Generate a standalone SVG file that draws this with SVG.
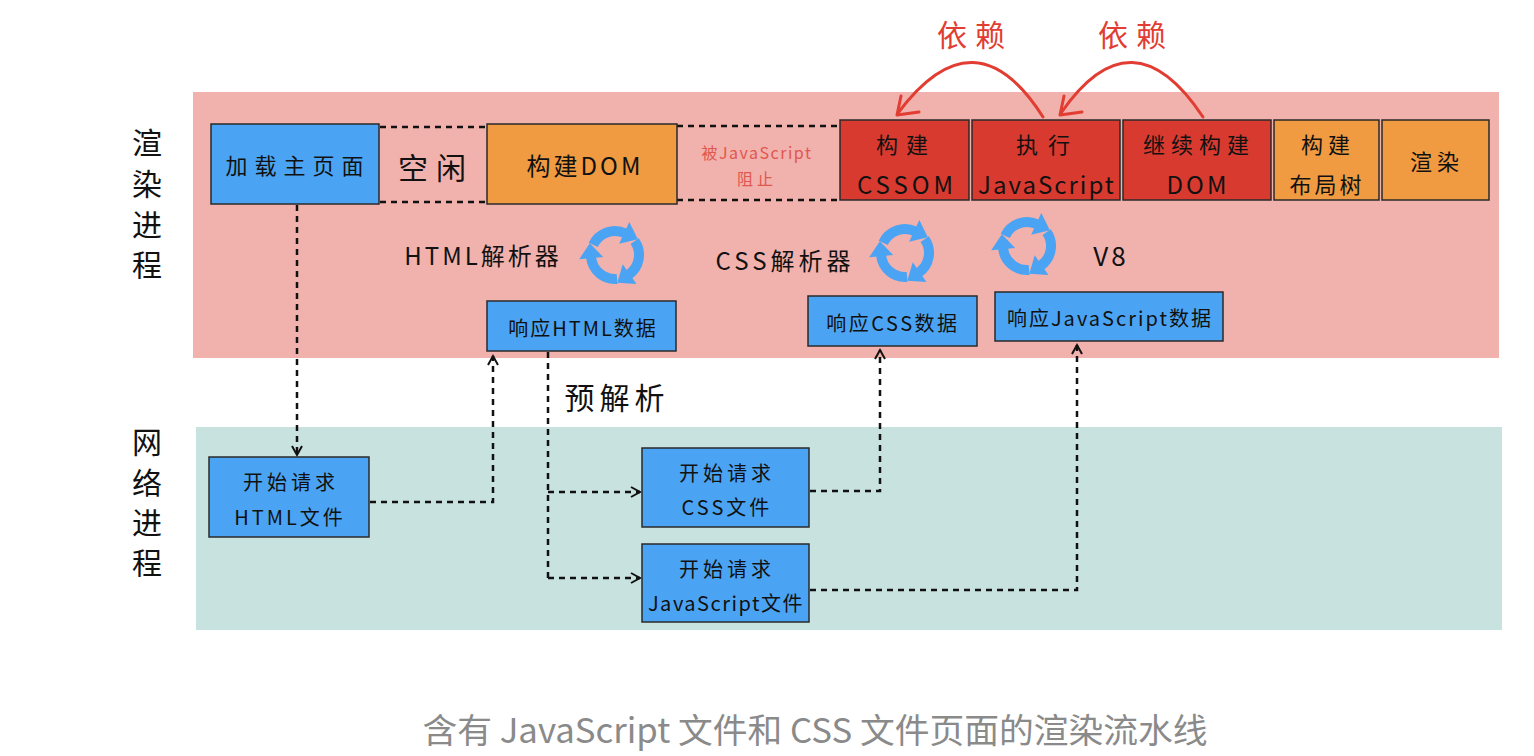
<svg xmlns="http://www.w3.org/2000/svg" xmlns:xlink="http://www.w3.org/1999/xlink" width="1534" height="756" viewBox="0 0 1534 756">
<style>
text{font-family:"Noto Sans CJK SC","Liberation Sans",sans-serif;fill:#111;text-anchor:middle;dominant-baseline:central}
.box{stroke:#2a2a2a;stroke-width:1.5}
.blue{fill:#4ba4f3}
.orange{fill:#f09a41}
.red{fill:#d93a2f}
.t22{font-size:22px}
.t24{font-size:24px}
.t20{font-size:20px}
.side{font-size:30px}
.dot{fill:none;stroke:#111;stroke-width:2.5;stroke-dasharray:6 5}
.dep{fill:none;stroke:#e23d32;stroke-width:3;stroke-linecap:round;stroke-linejoin:round}
.cyc{fill:none;stroke:#4ba4f3;stroke-width:10}
.cyh{fill:#4ba4f3}
</style>
<defs>
<marker id="ah" markerUnits="userSpaceOnUse" markerWidth="14" markerHeight="14" refX="10" refY="6" orient="auto">
<path d="M1,1 L10,6 L1,11" fill="none" stroke="#111" stroke-width="2"/>
</marker>
<g id="seg">
<path class="cyc" d="M24 0 A24 24 0 0 1 0 24"/>
<polygon class="cyh" points="1,12 1,36 -14,24"/>
</g>
<g id="cycle">
<use xlink:href="#seg" transform="rotate(205)"/>
<use xlink:href="#seg" transform="rotate(325)"/>
<use xlink:href="#seg" transform="rotate(85)"/>
</g>
</defs>
<rect width="1534" height="756" fill="#fff"/>
<rect x="193" y="92" width="1306" height="266" fill="#f1b1ad"/>
<rect x="196" y="427" width="1306" height="203" fill="#c8e2e0"/>

<g id="side-labels">
<text class="side" x="147" y="141">渲</text>
<text class="side" x="147" y="182">染</text>
<text class="side" x="147" y="223">进</text>
<text class="side" x="147" y="263">程</text>
<text class="side" x="147" y="440">网</text>
<text class="side" x="147" y="481">络</text>
<text class="side" x="147" y="521">进</text>
<text class="side" x="147" y="561">程</text>
</g>

<g id="connectors">
<path class="dot" d="M380 127 H487 M380 202 H487 M677 126 H840 M677 200 H840"/>
<path class="dot" d="M297 205 V455" marker-end="url(#ah)"/>
<path class="dot" d="M370 502 H493 V356" marker-end="url(#ah)"/>
<path class="dot" d="M548 352 V578"/>
<path class="dot" d="M548 492 H640" marker-end="url(#ah)"/>
<path class="dot" d="M548 578 H640" marker-end="url(#ah)"/>
<path class="dot" d="M810 491 H880 V350" marker-end="url(#ah)"/>
<path class="dot" d="M810 590 H1077 V345" marker-end="url(#ah)"/>
<path class="dep" d="M1043 117 Q975 10 898 113"/>
<polyline class="dep" points="901,96 897,115 919,112"/>
<path class="dep" d="M1203 117 Q1132 10 1061 113"/>
<polyline class="dep" points="1064,96 1060,115 1082,112"/>
</g>

<g id="dep-labels">
<text x="975" y="33" font-size="30" letter-spacing="8" style="fill:#e23d32">依赖</text>
<text x="1136" y="33" font-size="30" letter-spacing="8" style="fill:#e23d32">依赖</text>
</g>

<g id="load-main">
<rect class="box blue" x="211" y="124" width="168" height="80"/>
<text class="t22" x="298" y="164" letter-spacing="7">加载主页面</text>
</g>
<g id="idle">
<text x="436" y="166" font-size="30" letter-spacing="8">空闲</text>
</g>
<g id="build-dom">
<rect class="box orange" x="487" y="124" width="190" height="80"/>
<text class="t24" x="585" y="164" letter-spacing="3">构建DOM</text>
</g>
<g id="blocked">
<text x="757" y="152" font-size="16" letter-spacing="1.5" style="fill:#e0574e">被JavaScript</text>
<text x="757" y="178" font-size="16" letter-spacing="4" style="fill:#e0574e">阻止</text>
</g>
<g id="build-cssom">
<rect class="box red" x="840" y="120" width="129" height="80"/>
<text class="t22" x="906" y="143" letter-spacing="8">构建</text>
<text class="t24" x="907" y="183" letter-spacing="4">CSSOM</text>
</g>
<g id="exec-js">
<rect class="box red" x="972" y="120" width="148" height="80"/>
<text class="t22" x="1048" y="143" letter-spacing="10">执行</text>
<text class="t24" x="1047" y="183" letter-spacing="2">JavaScript</text>
</g>
<g id="continue-dom">
<rect class="box red" x="1123" y="120" width="148" height="80"/>
<text class="t22" x="1199" y="143" letter-spacing="6">继续构建</text>
<text class="t24" x="1198" y="183" letter-spacing="3">DOM</text>
</g>
<g id="build-layout">
<rect class="box orange" x="1274" y="120" width="105" height="80"/>
<text class="t22" x="1328" y="143" letter-spacing="5">构建</text>
<text class="t22" x="1327" y="183" letter-spacing="3">布局树</text>
</g>
<g id="render">
<rect class="box orange" x="1382" y="120" width="107" height="80"/>
<text class="t22" x="1437" y="160" letter-spacing="5">渲染</text>
</g>

<g id="html-parser">
<text class="t24" x="483" y="254" letter-spacing="3">HTML解析器</text>
<use xlink:href="#cycle" transform="translate(615 255)"/>
</g>
<g id="css-parser">
<text class="t24" x="785" y="259" letter-spacing="4">CSS解析器</text>
<use xlink:href="#cycle" transform="translate(905 253)"/>
</g>
<g id="v8">
<text x="1111" y="254" font-size="26" letter-spacing="3">V8</text>
<use xlink:href="#cycle" transform="translate(1027 246)"/>
</g>

<g id="resp-html">
<rect class="box blue" x="487" y="301" width="189" height="50"/>
<text class="t20" x="583" y="327" letter-spacing="2">响应HTML数据</text>
</g>
<g id="resp-css">
<rect class="box blue" x="808" y="296" width="169" height="50"/>
<text class="t20" x="893" y="322" letter-spacing="2.5">响应CSS数据</text>
</g>
<g id="resp-js">
<rect class="box blue" x="995" y="292" width="228" height="49"/>
<text class="t20" x="1110" y="317" letter-spacing="2">响应JavaScript数据</text>
</g>

<g id="preparse">
<text x="617" y="396" font-size="30" letter-spacing="5">预解析</text>
</g>

<g id="req-html">
<rect class="box blue" x="209" y="457" width="160" height="80"/>
<text class="t20" x="291" y="481" letter-spacing="4">开始请求</text>
<text class="t20" x="290" y="516" letter-spacing="3">HTML文件</text>
</g>
<g id="req-css">
<rect class="box blue" x="642" y="448" width="167" height="79"/>
<text class="t20" x="727" y="472" letter-spacing="4">开始请求</text>
<text class="t20" x="727" y="506" letter-spacing="3">CSS文件</text>
</g>
<g id="req-js">
<rect class="box blue" x="642" y="544" width="167" height="78"/>
<text class="t20" x="727" y="568" letter-spacing="4">开始请求</text>
<text class="t20" x="726" y="602" letter-spacing="1.5">JavaScript文件</text>
</g>

<g id="caption">
<text x="815" y="728" font-size="34" textLength="785" lengthAdjust="spacingAndGlyphs" style="fill:#8a8a8a">含有 JavaScript 文件和 CSS 文件页面的渲染流水线</text>
</g>
</svg>
